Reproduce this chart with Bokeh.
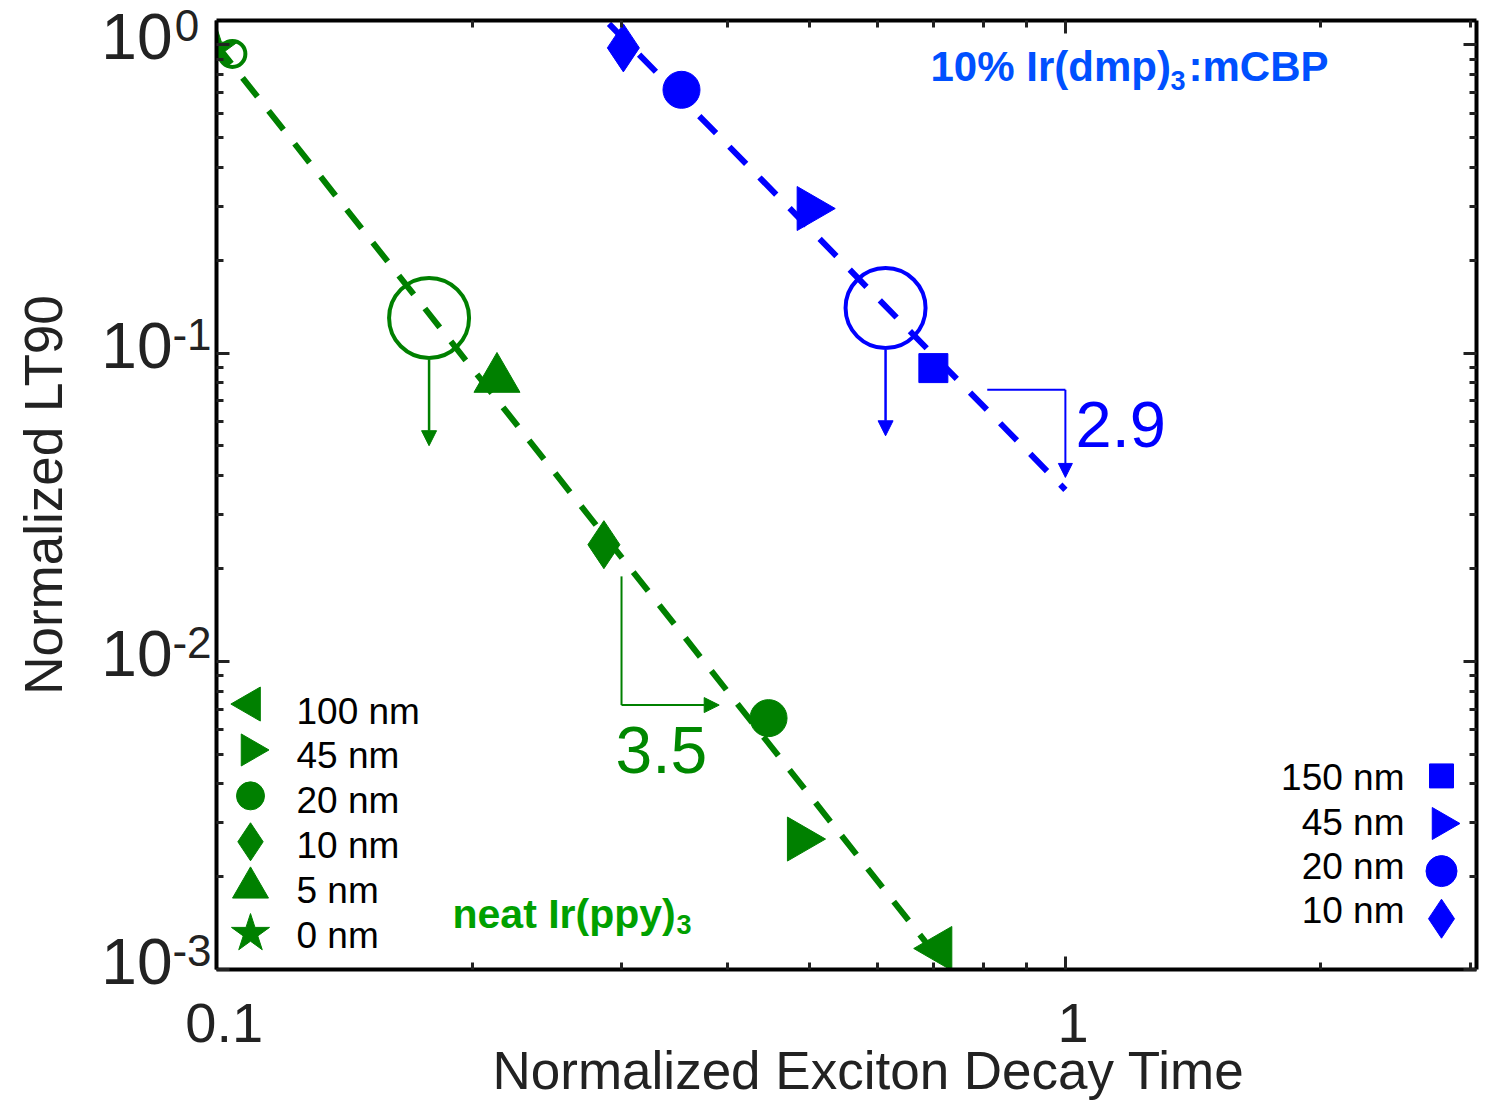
import math
from bokeh.plotting import figure
from bokeh.models import (Range1d, LogAxis, LogScale, FixedTicker, Label, Arrow, NormalHead,
                          ColumnDataSource, CustomJSTickFormatter)
from bokeh.embed import file_html
from bokeh.resources import INLINE

# ---------------- data ----------------
# neat Ir(ppy)3
ppy_thickness = ["0 nm", "5 nm", "10 nm", "20 nm", "45 nm", "100 nm"]
ppy_decay = [0.100, 0.214, 0.286, 0.447, 0.487, 0.710]
ppy_lt90 = [0.970, 0.0824, 0.0239, 0.00654, 0.00265, 0.00117]

# 10% Ir(dmp)3:mCBP
dmp_thickness = ["10 nm", "20 nm", "45 nm", "150 nm"]
dmp_decay = [0.3015, 0.353, 0.500, 0.699]
dmp_lt90 = [0.978, 0.715, 0.2945, 0.0894]

# open circle next to the 0 nm point
ppy_open_decay = [0.1044]
ppy_open_lt90 = [0.935]

# upper-limit points (large open circle with downward arrow)
limit_decay = [0.178, 0.614]
limit_lt90 = [0.130, 0.140]

# power-law fit lines
ppy_fit_decay = [0.100, 0.722]
ppy_fit_lt90 = [1.00, 0.00102]
dmp_fit_decay = [0.290, 1.00]
dmp_fit_lt90 = [1.17, 0.036]

# slope indicators
ppy_slope = "3.5"
dmp_slope = "2.9"
ppy_slope_x = [0.300, 0.391]       # vertical leg x, arrow tip x
ppy_slope_y = [0.01886, 0.00721]   # vertical leg top, corner y
dmp_slope_x = [0.809, 1.00]        # horizontal leg start x, corner x
dmp_slope_y = [0.0760, 0.0395]     # corner y, arrow tip y

# axes
x_major = [0.1, 1]
x_minor = [0.2, 0.3, 0.4, 0.5, 0.6, 0.7, 0.8, 0.9, 2, 3]
y_major = [0.001, 0.01, 0.1, 1]
y_minor = [0.002, 0.003, 0.004, 0.005, 0.006, 0.007, 0.008, 0.009,
           0.02, 0.03, 0.04, 0.05, 0.06, 0.07, 0.08, 0.09,
           0.2, 0.3, 0.4, 0.5, 0.6, 0.7, 0.8, 0.9]
X_LO, X_HI = 0.1, 3.05
Y_LO, Y_HI = 0.001, 1.2
x_title = "Normalized Exciton Decay Time"
y_title = "Normalized LT90"

# ---------------- styles ----------------
GREEN = "#008000"
BLUE = "#0000ff"
TXT = "#222222"
FONT = "Liberation Sans"
NBSP = "\u00a0"

ppy_style = {
    "0 nm": ("star", 0.0, 44),
    "5 nm": ("triangle", 0.0, 46),
    "10 nm": ("diamond", 0.0, 48),
    "20 nm": ("circle", 0.0, 37),
    "45 nm": ("triangle", -math.pi / 2, 44),
    "100 nm": ("triangle", math.pi / 2, 44),
}
ppy_leg_style = {
    "0 nm": ("star", 0.0, 40),
    "5 nm": ("triangle", 0.0, 36),
    "10 nm": ("diamond", 0.0, 38),
    "20 nm": ("circle", 0.0, 28),
    "45 nm": ("triangle", -math.pi / 2, 32),
    "100 nm": ("triangle", math.pi / 2, 34),
}
dmp_style = {
    "10 nm": ("diamond", 0.0, 48),
    "20 nm": ("circle", 0.0, 37),
    "45 nm": ("triangle", -math.pi / 2, 44),
    "150 nm": ("square", 0.0, 29),
}
dmp_leg_style = {
    "10 nm": ("diamond", 0.0, 39),
    "20 nm": ("circle", 0.0, 31),
    "45 nm": ("triangle", -math.pi / 2, 32),
    "150 nm": ("square", 0.0, 24),
}

# frame geometry (px)
W, H = 1486, 1102
FL, FT, FW, FH = 216, 20, 1260, 951
PPD = FH / (math.log10(Y_HI) - math.log10(Y_LO))   # px per decade on y


def px2x(px):
    a, b = math.log10(X_LO), math.log10(X_HI)
    return 10 ** (a + (px - FL) / FW * (b - a))


def px2y(py):
    a, b = math.log10(Y_LO), math.log10(Y_HI)
    return 10 ** (b - (py - FT) / FH * (b - a))


def y2px(v):
    a, b = math.log10(Y_LO), math.log10(Y_HI)
    return FT + FH * (b - math.log10(v)) / (b - a)


def lifted_range(d):
    # same y range, shifted so that labels drawn with it sit d px higher
    f = 10 ** (-d / PPD)
    return Range1d(Y_LO * f, Y_HI * f)


p = figure(width=W, height=H, x_axis_type="log", y_axis_type="log",
           x_range=Range1d(X_LO, X_HI), y_range=Range1d(Y_LO, Y_HI),
           output_backend="svg", toolbar_location=None,
           min_border_left=FL, min_border_right=W - FL - FW,
           min_border_top=FT, min_border_bottom=H - FT - FH)
p.xgrid.visible = False
p.ygrid.visible = False
p.outline_line_color = None
p.background_fill_color = "white"
p.border_fill_color = "white"
p.extra_y_ranges = {"sup": lifted_range(19), "ten": lifted_range(8)}
try:
    p.extra_y_scales = {"sup": LogScale(), "ten": LogScale()}
except Exception:
    pass

xt = FixedTicker(ticks=x_major, minor_ticks=x_minor)
yt = FixedTicker(ticks=y_major, minor_ticks=y_minor)
bottom_ax = p.below[0]
left_ax = p.left[0]
bottom_ax.ticker = xt
left_ax.ticker = yt
top_ax = LogAxis(ticker=xt)
right_ax = LogAxis(ticker=yt)
p.add_layout(top_ax, "above")
p.add_layout(right_ax, "right")
for ax in [bottom_ax, left_ax, top_ax, right_ax]:
    ax.axis_line_width = 4
    ax.axis_line_color = "black"
    ax.major_tick_in = 13
    ax.major_tick_out = 0
    ax.minor_tick_in = 7
    ax.minor_tick_out = 0
    ax.major_tick_line_width = 3
    ax.minor_tick_line_width = 3
    ax.major_tick_line_color = TXT
    ax.minor_tick_line_color = TXT
for ax in [top_ax, right_ax, left_ax]:
    ax.major_label_text_font_size = "1px"
    ax.major_label_text_color = None
    ax.major_label_standoff = 0

# bottom axis: 0.1, 1 and the title
bottom_ax.formatter = CustomJSTickFormatter(
    code="return '\\u00a0' + (tick >= 1 ? tick.toFixed(0) : tick.toFixed(1));")
bottom_ax.major_label_text_font = FONT
bottom_ax.major_label_text_font_size = "56px"
bottom_ax.major_label_text_color = TXT
bottom_ax.major_label_standoff = 21
bottom_ax.axis_label = NBSP * 3 + x_title
bottom_ax.axis_label_text_font = FONT
bottom_ax.axis_label_text_font_size = "53px"
bottom_ax.axis_label_text_font_style = "normal"
bottom_ax.axis_label_text_color = TXT
bottom_ax.axis_label_standoff = -16

# left side: exponent labels (inner), "10" labels (outer) and the title


def label_axis(range_name, code, size, standoff):
    ax = LogAxis(y_range_name=range_name,
                 ticker=FixedTicker(ticks=y_major, minor_ticks=[]),
                 formatter=CustomJSTickFormatter(code=code))
    ax.axis_line_color = None
    ax.major_tick_line_color = None
    ax.minor_tick_line_color = None
    ax.major_tick_in = 0
    ax.major_tick_out = 0
    ax.minor_tick_in = 0
    ax.minor_tick_out = 0
    ax.major_label_text_font = FONT
    ax.major_label_text_font_size = f"{size}px"
    ax.major_label_text_color = TXT
    ax.major_label_standoff = standoff
    p.add_layout(ax, "left")
    return ax


sup_ax = label_axis(
    "sup",
    "const e = Math.round(Math.log10(tick)); return e === 0 ? '0\\u00a0' : String(e);",
    44, 5)
ten_ax = label_axis("ten", "return '10';", 64, -3)
ten_ax.axis_label = y_title
ten_ax.axis_label_text_font = FONT
ten_ax.axis_label_text_font_size = "53px"
ten_ax.axis_label_text_font_style = "normal"
ten_ax.axis_label_text_color = TXT
ten_ax.axis_label_standoff = 25


def label(text, px, py, size, color=TXT, align="left", style="normal", font=FONT):
    p.add_layout(Label(x=px2x(px), y=px2y(py), text=text, text_font=font,
                       text_font_size=f"{size}px", text_color=color,
                       text_align=align, text_baseline="middle",
                       text_font_style=style))


# ---------------- fit lines ----------------
p.line(ppy_fit_decay, ppy_fit_lt90, line_color=GREEN, line_width=6, line_dash="24 18")
p.line(dmp_fit_decay, dmp_fit_lt90, line_color=BLUE, line_width=6, line_dash="24 19")

# ---------------- upper-limit circles and arrows ----------------
lim_colors = [GREEN, BLUE]
p.scatter(limit_decay, limit_lt90, marker="circle", size=80, fill_color=None,
          line_color=lim_colors, line_width=4)
for xv, yv, c in zip(limit_decay, limit_lt90, lim_colors):
    cy = y2px(yv)
    p.add_layout(Arrow(x_start=xv, y_start=px2y(cy + 42), x_end=xv, y_end=px2y(cy + 128),
                       line_color=c, line_width=2.5,
                       end=NormalHead(size=15, fill_color=c, line_color=c, line_width=1)))

# ---------------- data markers ----------------
src_ppy = ColumnDataSource(dict(
    x=ppy_decay, y=ppy_lt90,
    marker=[ppy_style[k][0] for k in ppy_thickness],
    angle=[ppy_style[k][1] for k in ppy_thickness],
    size=[ppy_style[k][2] for k in ppy_thickness]))
p.scatter(x="x", y="y", marker="marker", angle="angle", size="size", source=src_ppy,
          fill_color=GREEN, line_color=GREEN, line_width=1)
p.scatter(ppy_open_decay, ppy_open_lt90, marker="circle", size=26, fill_color=None,
          line_color=GREEN, line_width=4)

src_dmp = ColumnDataSource(dict(
    x=dmp_decay, y=dmp_lt90,
    marker=[dmp_style[k][0] for k in dmp_thickness],
    angle=[dmp_style[k][1] for k in dmp_thickness],
    size=[dmp_style[k][2] for k in dmp_thickness]))
p.scatter(x="x", y="y", marker="marker", angle="angle", size="size", source=src_dmp,
          fill_color=BLUE, line_color=BLUE, line_width=1)

# ---------------- slope indicators ----------------
p.add_layout(Arrow(x_start=ppy_slope_x[0], y_start=ppy_slope_y[0],
                   x_end=ppy_slope_x[0], y_end=ppy_slope_y[1],
                   line_color=GREEN, line_width=2, end=None))
p.add_layout(Arrow(x_start=ppy_slope_x[0], y_start=ppy_slope_y[1],
                   x_end=ppy_slope_x[1], y_end=ppy_slope_y[1],
                   line_color=GREEN, line_width=2,
                   end=NormalHead(size=15, fill_color=GREEN, line_color=GREEN, line_width=1)))
p.add_layout(Arrow(x_start=dmp_slope_x[0], y_start=dmp_slope_y[0],
                   x_end=dmp_slope_x[1], y_end=dmp_slope_y[0],
                   line_color=BLUE, line_width=2, end=None))
p.add_layout(Arrow(x_start=dmp_slope_x[1], y_start=dmp_slope_y[0],
                   x_end=dmp_slope_x[1], y_end=dmp_slope_y[1],
                   line_color=BLUE, line_width=2,
                   end=NormalHead(size=14, fill_color=BLUE, line_color=BLUE, line_width=1)))
label(ppy_slope, 615, 751, 66, color="#008800")
label(dmp_slope, 1075, 425, 65, color=BLUE)

# ---------------- legends ----------------
leg_l = list(reversed(ppy_thickness))
src_ll = ColumnDataSource(dict(
    x=[px2x(250)] * len(leg_l),
    y=[px2y(705 + 46 * i) for i in range(len(leg_l))],
    marker=[ppy_leg_style[k][0] for k in leg_l],
    angle=[ppy_leg_style[k][1] for k in leg_l],
    size=[ppy_leg_style[k][2] for k in leg_l]))
p.scatter(x="x", y="y", marker="marker", angle="angle", size="size", source=src_ll,
          fill_color=GREEN, line_color=GREEN, line_width=1)
for i, k in enumerate(leg_l):
    label(k, 296, 712 + 45 * i, 37, color="black")

leg_r = list(reversed(dmp_thickness))
src_lr = ColumnDataSource(dict(
    x=[px2x(1441)] * len(leg_r),
    y=[px2y(777 + 47.7 * i) for i in range(len(leg_r))],
    marker=[dmp_leg_style[k][0] for k in leg_r],
    angle=[dmp_leg_style[k][1] for k in leg_r],
    size=[dmp_leg_style[k][2] for k in leg_r]))
p.scatter(x="x", y="y", marker="marker", angle="angle", size="size", source=src_lr,
          fill_color=BLUE, line_color=BLUE, line_width=1)
for i, k in enumerate(leg_r):
    label(k, 1404, 779 + 44.3 * i, 37, color="black", align="right")

# series names
label("neat Ir(ppy)", 452, 915, 41, color="#00a000", style="bold")
label("3", 676, 926, 27, color="#00a000", style="bold")
label("10% Ir(dmp)", 930, 66, 42, color="#0050ff", style="bold")
label("3", 1170, 80, 27, color="#0050ff", style="bold")
label(":mCBP", 1188, 66, 42, color="#0050ff", style="bold")

open("out.html", "w").write(file_html(p, INLINE))
